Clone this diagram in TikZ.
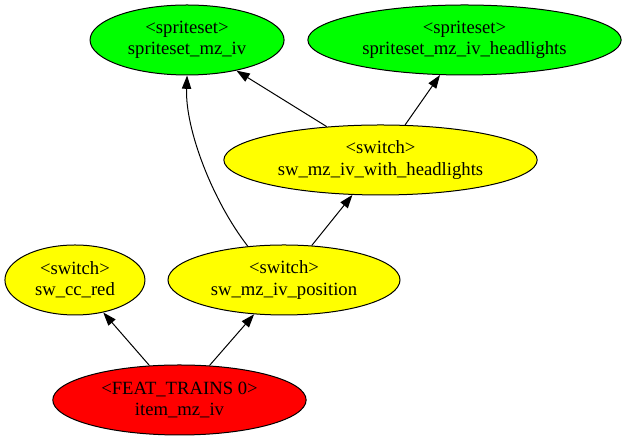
\documentclass[tikz,border=0pt]{standalone}
\usepackage{fontspec}
\setmainfont{Liberation Serif}
\usepackage{xcolor}
\usepackage{tikz}
\usetikzlibrary{arrows.meta,positioning,shapes.geometric}
\definecolor{DotGreen}{HTML}{00FF00}
\definecolor{DotYellow}{HTML}{FFFF00}
\definecolor{DotRed}{HTML}{FF0000}
\tikzset{
  blob/.style={ellipse, draw, line width=0.75pt, align=center, inner sep=0pt,
               minimum height=52.5pt},
  sprite/.style={blob, fill=DotGreen},
  switchbox/.style={blob, fill=DotYellow},
  feat/.style={blob, fill=DotRed},
  flow/.style={-{Triangle[length=10pt,width=7pt]}, line width=0.75pt}
}

\begin{document}
\begin{tikzpicture}[on grid, node distance=90pt and 78.4pt, font=\fontsize{14}{16}\selectfont]
  \node[feat, minimum width=190pt] (item) {<FEAT\_TRAINS 0>\\item\_mz\_iv};
  \node[switchbox, minimum width=105pt, above left=of item] (ccred) {<switch>\\sw\_cc\_red};
  \node[switchbox, minimum width=174pt, above right=of item] (position) {<switch>\\sw\_mz\_iv\_position};
  \node[switchbox, minimum width=235pt, above right=90pt and 72.4pt of position] (withlights) {<switch>\\sw\_mz\_iv\_with\_headlights};
  \node[sprite, minimum width=145.5pt, above left=90pt and 145.1pt of withlights] (sprites) {<spriteset>\\spriteset\_mz\_iv};
  \node[sprite, minimum width=235pt, above right=90pt and 63pt of withlights] (spriteslights) {<spriteset>\\spriteset\_mz\_iv\_headlights};
  \useasboundingbox ([shift={(-134.6pt,-30.75pt)}]item.center) rectangle ++(468.75pt,330.75pt);
  \draw[flow] (item) -- (ccred);
  \draw[flow] (item) -- (position);
  \draw[flow] (position) -- (withlights);
  \draw[flow] (position.137) .. controls +(-26.25pt,33.75pt) and +(-1.5pt,-40.5pt) .. (sprites.south);
  \draw[flow] (withlights) -- (sprites);
  \draw[flow] (withlights) -- (spriteslights);
\end{tikzpicture}
\end{document}
